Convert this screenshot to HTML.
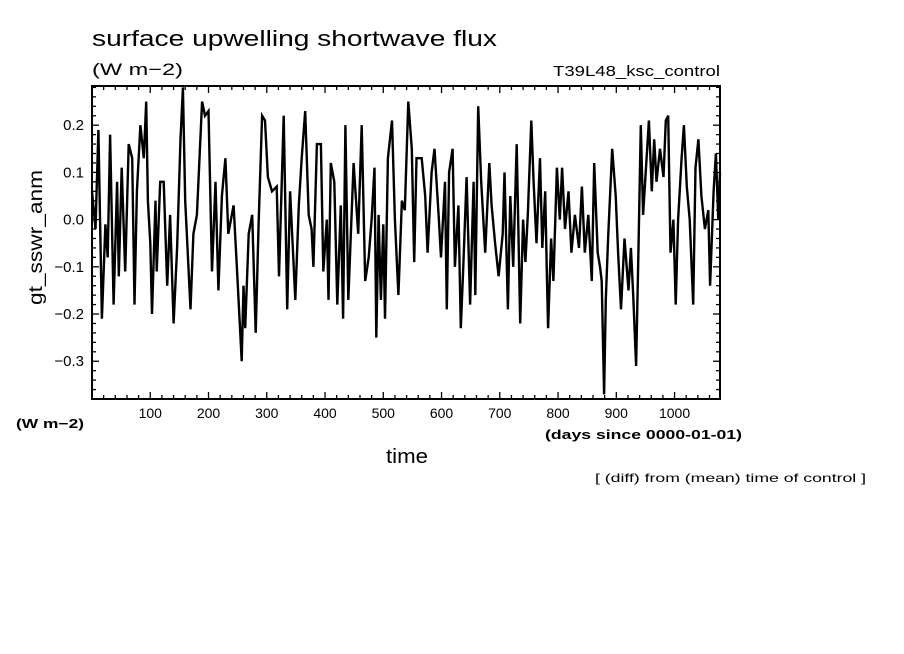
<!DOCTYPE html>
<html><head><meta charset="utf-8"><style>
body{margin:0;background:#fff;}
svg{display:block;font-family:"Liberation Sans",sans-serif;}
</style></head><body>
<svg id="chart" width="904" height="654" viewBox="0 0 904 654">
<rect width="904" height="654" fill="#fff"/>
<text x="92" y="46" font-size="22" textLength="405" lengthAdjust="spacingAndGlyphs">surface upwelling shortwave flux</text>
<text x="92" y="75" font-size="17" textLength="91" lengthAdjust="spacingAndGlyphs">(W m−2)</text>
<text x="553" y="76" font-size="15" textLength="167" lengthAdjust="spacingAndGlyphs">T39L48_ksc_control</text>
<text x="16" y="428" font-size="13" font-weight="bold" textLength="68" lengthAdjust="spacingAndGlyphs">(W m−2)</text>
<text x="545" y="439" font-size="13" font-weight="bold" textLength="197" lengthAdjust="spacingAndGlyphs">(days since 0000-01-01)</text>
<text x="386" y="463" font-size="20" textLength="42" lengthAdjust="spacingAndGlyphs">time</text>
<text x="595" y="482" font-size="12" textLength="271" lengthAdjust="spacingAndGlyphs">[ (diff) from (mean) time of control ]</text>
<text transform="translate(42,305) rotate(-90)" font-size="19" textLength="135" lengthAdjust="spacingAndGlyphs">gt_sswr_anm</text>
<g id="axes"></g>
<path id="series" fill="none" stroke="#000" stroke-width="2.4" stroke-linejoin="miter"/>
<rect x="92" y="86" width="628" height="313" fill="none" stroke="#000" stroke-width="2"/>
</svg>
<script>
const days = [0,6,11,17,23,27,31,37,43,46,51,57,63,69,73,77,83,89,93,96,100,103,109,111,117,123,129,134,140,146,152,156,160,169,174,180,189,194,200,206,212,217,223,229,234,243,249,252,257,260,263,269,275,281,286,292,297,302,309,317,321,329,335,340,349,355,360,366,372,377,380,386,393,397,403,406,410,416,421,427,431,435,440,449,457,463,469,475,480,485,488,492,496,500,503,508,515,520,526,532,537,543,549,553,557,566,572,576,583,588,595,599,606,609,613,619,623,629,633,637,643,649,655,658,663,668,675,682,686,692,698,705,708,714,718,723,729,735,740,744,748,754,758,763,769,773,778,781,783,788,792,798,803,807,812,818,823,829,836,841,846,852,858,862,868,872,875,879,882,886,893,899,903,908,914,921,925,929,934,938,942,946,951,956,961,965,969,975,981,985,989,993,998,1002,1006,1012,1016,1021,1026,1032,1036,1041,1046,1052,1058,1061,1067,1071,1075,1078];
const values = [0.06,-0.02,0.19,-0.21,-0.01,-0.08,0.18,-0.18,0.08,-0.12,0.11,-0.11,0.16,0.13,-0.18,0.06,0.2,0.13,0.25,0.04,-0.05,-0.2,0.04,-0.11,0.08,0.08,-0.14,0.01,-0.22,-0.06,0.17,0.28,0.04,-0.19,-0.03,0.01,0.25,0.22,0.23,-0.11,0.08,-0.15,0.05,0.13,-0.03,0.03,-0.11,-0.18,-0.3,-0.14,-0.23,-0.03,0.01,-0.24,-0.01,0.22,0.21,0.09,0.06,0.07,-0.12,0.22,-0.19,0.06,-0.17,0.03,0.13,0.23,0.01,-0.02,-0.1,0.16,0.16,-0.11,0.0,-0.17,0.12,0.08,-0.18,0.03,-0.21,0.2,-0.17,0.12,-0.03,0.2,-0.13,-0.08,0.0,0.11,-0.25,0.01,-0.17,-0.01,-0.21,0.13,0.21,0.0,-0.16,0.04,0.02,0.25,0.15,-0.09,0.13,0.13,0.05,-0.07,0.1,0.15,0.01,-0.08,0.08,-0.19,0.1,0.15,-0.1,0.03,-0.23,-0.11,0.09,-0.18,0.08,-0.16,0.24,0.08,-0.07,0.12,0.03,-0.05,-0.12,-0.03,0.1,-0.19,0.05,-0.1,0.16,-0.22,0.0,-0.09,0.01,0.21,0.08,-0.05,0.13,-0.06,0.06,-0.13,-0.23,-0.04,-0.13,0.11,0.0,0.11,-0.02,0.06,-0.07,0.01,-0.06,0.07,-0.07,0.01,-0.13,0.12,-0.07,-0.1,-0.13,-0.37,-0.17,-0.04,0.15,0.05,-0.07,-0.19,-0.04,-0.15,-0.06,-0.16,-0.31,-0.07,0.2,0.01,0.11,0.21,0.06,0.17,0.08,0.15,0.09,0.21,0.22,-0.07,0.0,-0.18,0.0,0.13,0.2,0.07,0.0,-0.18,0.11,0.17,0.05,-0.02,0.02,-0.14,0.06,0.14,0.0,0.1];
const xTicks = [100,200,300,400,500,600,700,800,900,1000];
const yTicks = [0.2,0.1,0.0,-0.1,-0.2,-0.3];
const yTickLabels = ["0.2","0.1","0.0","−0.1","−0.2","−0.3"];

const X0=92, X1=720, Y0=86, Y1=399;
const xMin=0, xMax=1078, yMin=-0.380, yMax=0.283;
function xs(d){return X0+(d-xMin)/(xMax-xMin)*(X1-X0);}
function ys(v){return Y1-(v-yMin)/(yMax-yMin)*(Y1-Y0);}

const NS="http://www.w3.org/2000/svg";
const axes=document.getElementById('axes');
function line(x1,y1,x2,y2,name){
  const l=document.createElementNS(NS,'line');
  l.setAttribute('x1',x1);l.setAttribute('y1',y1);l.setAttribute('x2',x2);l.setAttribute('y2',y2);
  l.setAttribute('stroke','#000');l.setAttribute('stroke-width','1.3');
  
  
  axes.appendChild(l);
}
for(let d=20; d<xMax; d+=20){
  const x=xs(d), major=(d%100===0), len=major?7:4;
  line(x,Y1,x,Y1-len,'x-tick');
  line(x,Y0,x,Y0+len,'x-tick-top');
}
for(let k=-19;k<=14;k++){
  const v=k*0.02, y=ys(v), major=(k%5===0), len=major?7:4;
  line(X0,y,X0+len,y,'y-tick');
  line(X1,y,X1-len,y,'y-tick-right');
}
xTicks.forEach(t=>{
  const tx=document.createElementNS(NS,'text');
  tx.setAttribute('x',xs(t));tx.setAttribute('y',418);
  tx.setAttribute('text-anchor','middle');tx.setAttribute('font-size','14');
  tx.textContent=t;
  
  
  axes.appendChild(tx);
});
yTicks.forEach((t,i)=>{
  const tx=document.createElementNS(NS,'text');
  tx.setAttribute('x',84);tx.setAttribute('y',ys(t)+5);
  tx.setAttribute('text-anchor','end');tx.setAttribute('font-size','15');
  tx.textContent=yTickLabels[i];
  
  
  axes.appendChild(tx);
});
let dstr='';
days.forEach((d,i)=>{dstr+=(i?'L':'M')+xs(d).toFixed(1)+' '+ys(values[i]).toFixed(1);});
document.getElementById('series').setAttribute('d',dstr);
</script>
</body></html>
